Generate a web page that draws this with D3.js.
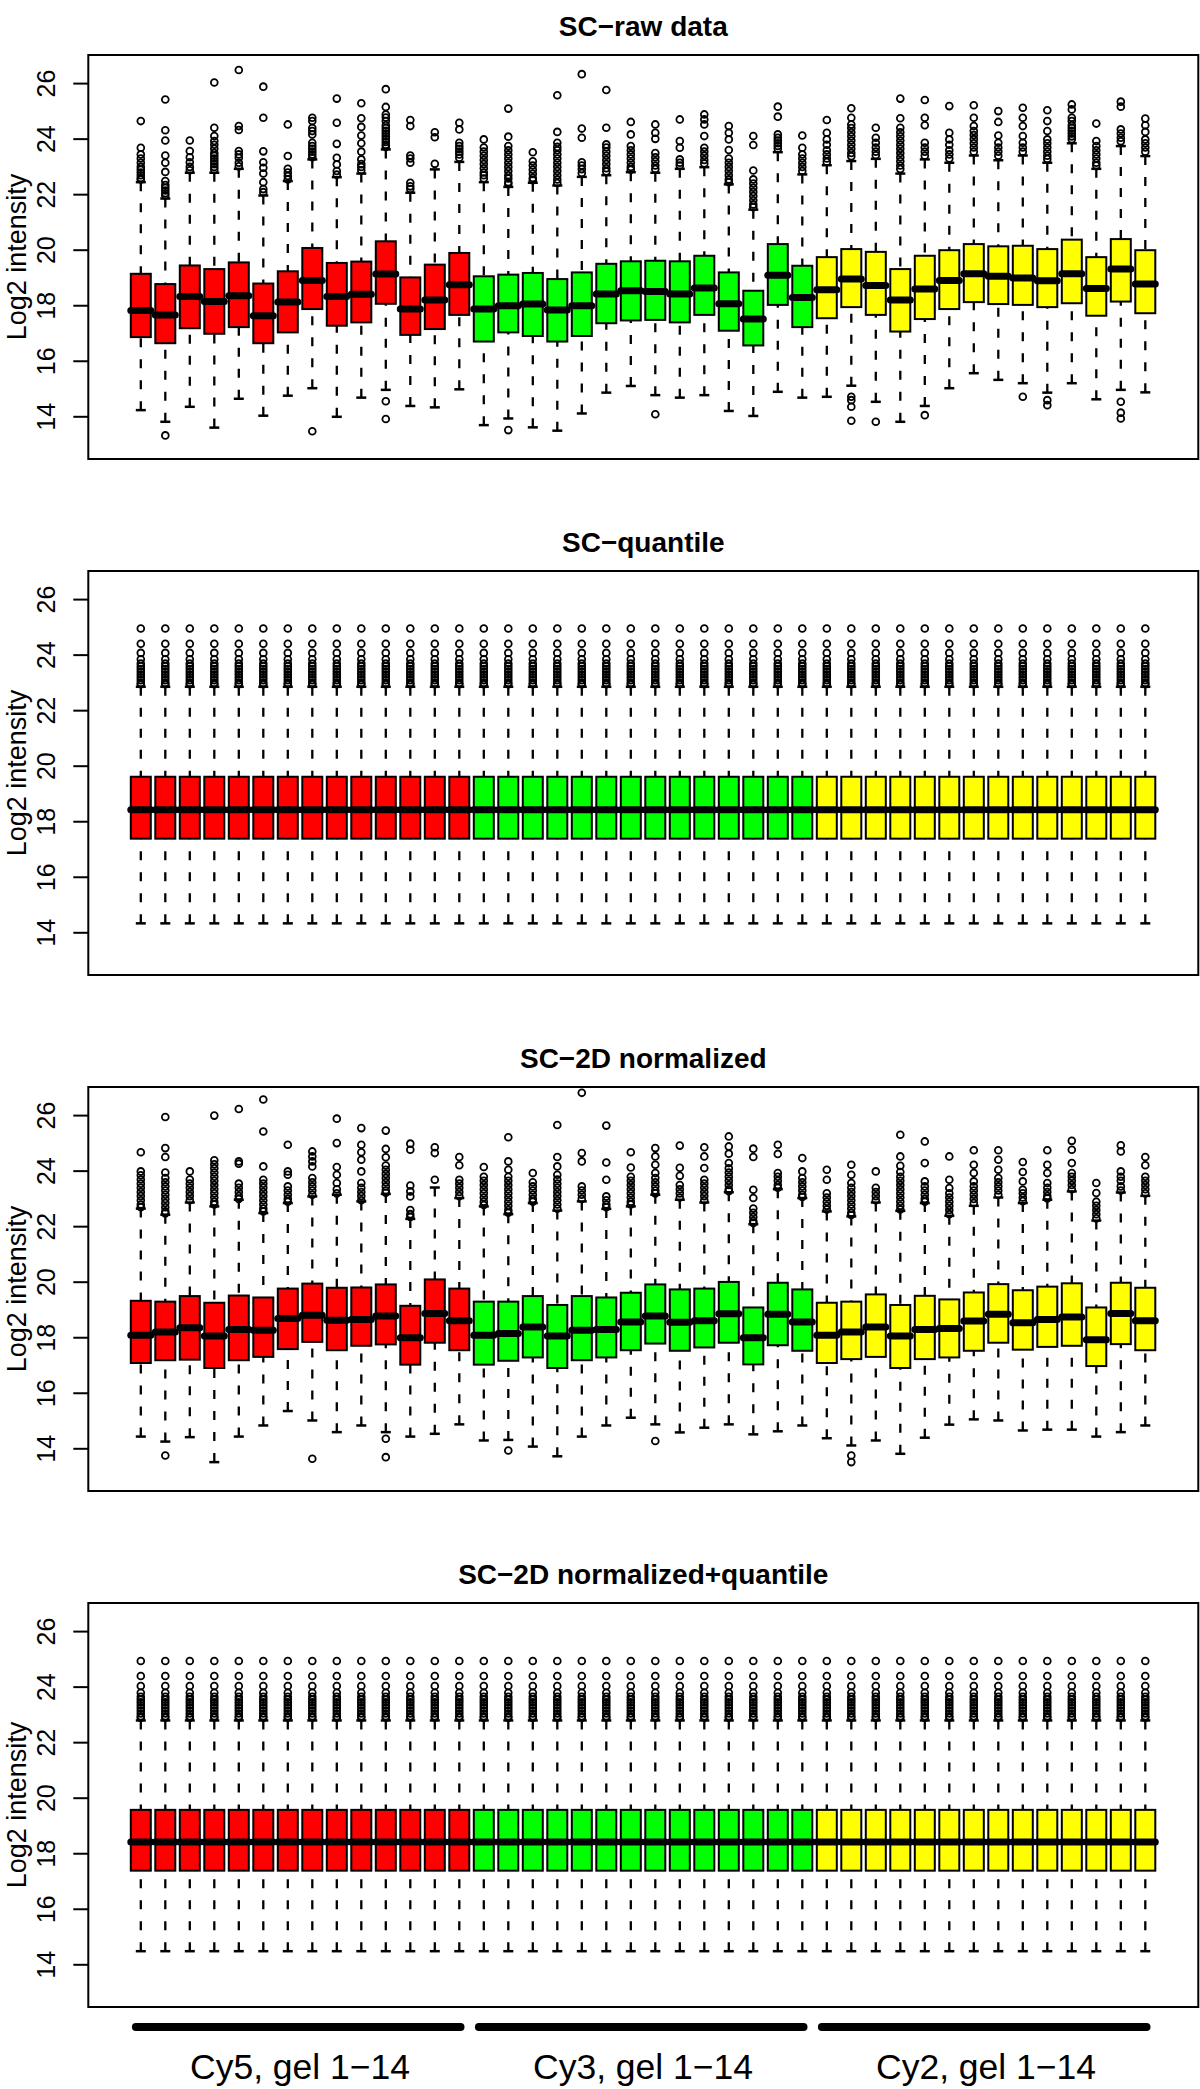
<!DOCTYPE html>
<html><head><meta charset="utf-8">
<script src="https://cdn.jsdelivr.net/npm/d3@7"></script>
<style>
body{margin:0;background:#fff}
svg{display:block}
text{font-family:"Liberation Sans",Arial,Helvetica,sans-serif;fill:#000}
</style>
</head><body><svg id="chart" width="1200" height="2089"></svg>
<script>
// ---------------- DATA ----------------
const panelTitles = ["SC\u2212raw data", "SC\u2212quantile", "SC\u22122D normalized", "SC\u22122D normalized+quantile"];
const yTicks = [14, 16, 18, 20, 22, 24, 26];
const yLabel = "Log2 intensity";
const groupLabels = ["Cy5, gel 1\u221214", "Cy3, gel 1\u221214", "Cy2, gel 1\u221214"];
const groupStart = [1, 15, 29];
const groupEnd = [14, 28, 42];
const groupColors = ["#ff0000", "#00ff00", "#ffff00"];
const samples = [1,2,3,4,5,6,7,8,9,10,11,12,13,14,15,16,17,18,19,20,21,22,23,24,25,26,27,28,29,30,31,32,33,34,35,36,37,38,39,40,41,42];

// Panel 1: raw data
const rawQ3 = [19.15,18.78,19.45,19.32,19.56,18.80,19.24,20.08,19.54,19.59,20.32,19.02,19.48,19.90,19.06,19.12,19.18,18.96,19.20,19.51,19.60,19.62,19.60,19.80,19.20,18.54,20.22,19.44,19.75,20.04,19.94,19.32,19.80,20.00,20.22,20.14,20.16,20.04,20.38,19.75,20.40,20.00];
const rawQ1 = [16.87,16.65,17.19,16.99,17.23,16.65,17.04,17.88,17.28,17.40,18.07,16.95,17.16,17.67,16.71,17.04,16.91,16.71,16.91,17.37,17.47,17.49,17.40,17.67,17.10,16.57,18.03,17.23,17.55,17.95,17.67,17.07,17.52,17.88,18.13,18.06,18.03,17.95,18.09,17.64,18.15,17.73];
const rawMed = [17.83,17.67,18.33,18.15,18.36,17.64,18.13,18.91,18.33,18.41,19.14,17.88,18.21,18.76,17.88,18.00,18.06,17.85,18.00,18.42,18.54,18.51,18.42,18.64,18.07,17.52,19.10,18.30,18.58,18.96,18.73,18.21,18.60,18.91,19.15,19.06,19.00,18.90,19.15,18.62,19.32,18.78];
const rawHi = [22.45,21.86,22.79,22.79,22.93,21.97,22.49,23.27,22.63,22.76,23.63,22.07,22.91,23.18,22.45,22.28,22.43,22.33,22.64,22.70,22.81,22.79,22.93,22.99,22.37,21.46,23.53,22.73,23.06,23.21,23.29,22.76,23.27,23.15,23.41,23.24,23.41,23.15,23.85,22.93,23.75,23.39];
const rawLo = [14.24,13.82,14.36,13.61,14.65,14.04,14.76,15.03,14.00,14.69,14.97,14.39,14.34,14.99,13.70,13.94,13.62,13.50,14.12,14.87,15.11,14.78,14.69,14.78,14.21,14.03,14.90,14.69,14.72,15.12,14.54,13.82,14.39,15.03,15.57,15.33,15.21,14.87,15.21,14.63,14.97,14.88];
const rawOutHi = [
 [24.65,23.69,23.45,23.3,23.15,23.0,22.9,22.8,22.7,22.6,22.55],
 [25.43,24.32,23.95,23.41,23.15,22.82,22.49,22.35,22.25,22.15,22.05,21.97],
 [23.95,23.57,23.35,23.17,23.0,22.88],
 [26.04,24.41,24.11,23.93,23.8,23.65,23.5,23.4,23.3,23.2,23.1,23.0,22.9],
 [26.49,24.47,24.33,23.57,23.45,23.33,23.15,23.02],
 [25.89,24.77,23.56,23.17,22.97,22.76,22.45,22.2,22.09],
 [24.53,23.39,22.93,22.8,22.67,22.55],
 [24.77,24.65,24.4,24.29,24.17,23.87,23.75,23.65,23.55,23.45,23.35],
 [25.46,24.59,23.83,23.33,23.09,22.85,22.72],
 [25.29,24.75,24.44,24.13,23.85,23.55,23.27,23.1,23.0,22.88],
 [25.80,25.16,24.89,24.78,24.65,24.5,24.4,24.3,24.2,24.1,24.0,23.9,23.8,23.72],
 [24.69,24.47,23.41,23.3,23.15,22.43,22.3,22.2],
 [24.25,24.07,23.11],
 [24.59,24.35,23.87,23.75,23.65,23.55,23.45,23.33],
 [23.99,23.7,23.55,23.4,23.25,23.1,22.95,22.8,22.7,22.58],
 [25.10,24.09,23.75,23.6,23.45,23.3,23.15,23.0,22.85,22.7,22.58,22.45,22.38],
 [23.53,23.2,23.05,22.9,22.75,22.6,22.52],
 [25.58,24.26,23.87,23.72,23.6,23.45,23.3,23.15,23.0,22.85,22.7,22.55,22.42],
 [26.34,24.38,24.05,23.17,23.05,22.92,22.78],
 [25.77,24.41,23.81,23.7,23.55,23.4,23.25,23.1,22.95,22.83],
 [24.62,24.17,23.75,23.6,23.45,23.3,23.15,23.0,22.9],
 [24.53,24.23,24.01,23.5,23.35,23.2,23.05,22.92],
 [24.71,23.93,23.69,23.27,23.15,23.05],
 [24.89,24.71,24.53,24.11,23.69,23.55,23.4,23.25,23.12],
 [24.47,24.23,23.99,23.61,23.3,23.15,23.0,22.85,22.7,22.55,22.45],
 [24.11,23.79,22.87,22.55,22.4,22.25,22.1,21.95,21.8,21.65,21.55],
 [25.17,24.81,24.17,24.05,23.95,23.85,23.75,23.65],
 [24.13,23.69,23.45,23.3,23.15,23.0,22.85],
 [24.69,24.23,23.99,23.8,23.6,23.45,23.3,23.18],
 [25.11,24.77,24.53,24.4,24.25,24.1,23.95,23.8,23.65,23.5,23.38],
 [24.41,24.05,23.87,23.7,23.55,23.42],
 [25.46,24.75,24.41,24.25,24.1,23.95,23.8,23.65,23.5,23.35,23.2,23.05,22.92],
 [25.41,24.77,24.50,23.87,23.7,23.55,23.4],
 [25.19,24.23,23.99,23.8,23.6,23.45,23.3],
 [25.22,24.77,24.47,24.29,24.15,24.0,23.85,23.7,23.55],
 [25.01,24.62,24.13,23.87,23.7,23.55,23.4],
 [25.13,24.77,24.47,24.11,23.87,23.7,23.55],
 [25.04,24.65,24.29,23.99,23.85,23.7,23.55,23.4,23.28],
 [25.25,25.07,24.77,24.65,24.5,24.4,24.3,24.2,24.1,24.0],
 [24.56,23.93,23.75,23.6,23.45,23.3,23.15,23.05],
 [25.35,25.17,24.35,24.2,24.05,23.92],
 [24.74,24.50,24.26,23.99,23.85,23.7,23.55]
];
const rawOutLo = [[],[13.33],[],[],[],[],[],[13.48],[],[],[14.56,13.92],[],[],[],[],[13.52],[],[],[],[],[],[14.09],[],[],[],[],[],[],[],[14.72,14.6,14.36,13.86],[13.82],[],[14.06],[],[],[],[14.72],[14.6,14.42],[],[],[14.54,14.15,13.94],[]];

// Panel 3: 2D normalized
const n2dQ3 = [19.33,19.30,19.50,19.26,19.52,19.45,19.77,19.95,19.80,19.81,19.92,19.15,20.10,19.77,19.30,19.30,19.50,19.18,19.50,19.45,19.62,19.92,19.74,19.77,20.01,19.09,19.98,19.74,19.26,19.30,19.56,19.18,19.51,19.38,19.63,19.93,19.71,19.84,19.96,19.09,19.98,19.80];
const n2dQ1 = [17.09,17.19,17.21,16.91,17.19,17.31,17.59,17.85,17.55,17.71,17.76,17.03,17.82,17.55,17.03,17.17,17.29,16.91,17.19,17.29,17.55,17.79,17.53,17.65,17.82,17.04,17.73,17.53,17.09,17.23,17.31,16.91,17.23,17.29,17.53,17.82,17.57,17.67,17.71,16.98,17.77,17.55];
const n2dMed = [18.09,18.21,18.36,18.06,18.30,18.27,18.69,18.81,18.63,18.66,18.78,18.00,18.87,18.61,18.09,18.15,18.39,18.06,18.27,18.30,18.57,18.78,18.56,18.61,18.86,18.00,18.85,18.57,18.09,18.21,18.39,18.06,18.30,18.33,18.60,18.85,18.54,18.66,18.75,17.93,18.87,18.61];
const n2dHi = [22.65,22.43,22.87,22.73,22.97,22.49,22.85,23.09,23.15,22.91,23.18,22.28,23.41,23.03,22.73,22.45,22.85,22.58,22.91,22.64,22.73,23.15,22.97,22.87,23.24,22.09,23.35,23.03,22.55,22.37,22.87,22.57,22.85,22.39,22.75,23.05,22.85,22.97,23.27,22.22,23.23,23.11];
const n2dLo = [14.44,14.26,14.42,13.52,14.44,14.84,15.36,15.02,14.60,14.84,14.60,14.44,14.54,14.88,14.30,14.32,14.08,13.73,14.44,14.84,15.12,14.88,14.59,14.76,14.88,14.52,14.63,14.84,14.38,14.12,14.30,13.82,14.40,14.87,15.06,15.02,14.66,14.69,14.69,14.44,14.60,14.84];
const n2dOutHi = [
 [24.68,23.99,23.85,23.7,23.55,23.4,23.25,23.1,22.95,22.8,22.7],
 [25.95,24.83,24.51,23.95,23.75,23.6,23.45,23.3,23.15,23.0,22.85,22.7,22.55,22.48],
 [23.99,23.7,23.55,23.4,23.25,23.1,22.95],
 [26.0,24.39,24.25,24.1,23.95,23.8,23.65,23.5,23.35,23.2,23.05,22.9,22.8],
 [26.24,24.35,24.27,23.55,23.4,23.25,23.1,23.0],
 [26.58,25.43,24.17,23.69,23.55,23.4,23.25,23.1,22.95,22.8,22.65,22.55],
 [24.95,23.99,23.87,23.45,23.3,23.15,23.0,22.9],
 [24.71,24.53,24.35,24.17,23.75,23.6,23.45,23.3,23.15],
 [25.89,25.01,24.15,23.87,23.57,23.35,23.2],
 [25.55,24.95,24.68,24.41,23.99,23.57,23.4,23.25,23.1,22.95],
 [25.46,24.80,24.50,24.2,24.05,23.9,23.75,23.6,23.45,23.3,23.22],
 [24.99,24.77,23.48,23.27,23.09,22.6,22.45,22.35],
 [24.86,24.65,23.69],
 [24.51,24.21,23.69,23.55,23.4,23.25,23.1],
 [24.15,23.8,23.65,23.5,23.35,23.2,23.05,22.9,22.78],
 [25.22,24.35,24.05,23.8,23.65,23.5,23.35,23.2,23.05,22.9,22.75,22.6,22.5],
 [23.93,23.6,23.45,23.3,23.15,23.0,22.9],
 [25.66,24.51,24.17,23.87,23.7,23.55,23.4,23.25,23.1,22.95,22.8,22.65],
 [26.82,24.65,24.35,23.45,23.3,23.15,23.0],
 [25.64,24.31,23.69,23.09,22.95,22.8,22.7],
 [24.68,24.13,23.8,23.65,23.5,23.35,23.2,23.05,22.9,22.8],
 [24.83,24.53,24.23,23.93,23.75,23.6,23.45,23.3,23.2],
 [24.92,24.12,23.83,23.5,23.35,23.2,23.05],
 [24.86,24.53,24.11,23.69,23.55,23.4,23.25,23.1,22.95],
 [25.25,24.89,24.63,24.29,24.1,23.95,23.8,23.65,23.5,23.35,23.28],
 [24.81,24.51,23.33,23.03,22.65,22.5,22.35,22.2,22.13],
 [24.95,24.62,23.93,23.8,23.65,23.5,23.4],
 [24.47,23.99,23.75,23.6,23.45,23.3,23.15,23.07],
 [24.05,23.69,23.2,23.05,22.9,22.75,22.62],
 [24.23,23.87,23.57,23.4,23.25,23.1,22.95,22.8,22.65,22.5,22.42],
 [23.99,23.4,23.25,23.1,22.95],
 [25.31,24.53,24.19,23.97,23.8,23.65,23.5,23.35,23.2,23.05,22.9,22.75,22.62],
 [25.07,24.29,23.63,23.45,23.3,23.15,23.0,22.9],
 [24.53,23.69,23.39,23.2,23.05,22.9,22.75,22.6,22.45],
 [24.75,24.23,23.93,23.63,23.45,23.3,23.15,23.0,22.85],
 [24.75,24.41,24.05,23.75,23.6,23.45,23.3,23.15],
 [24.33,23.97,23.63,23.33,23.2,23.05,22.92],
 [24.75,24.23,23.93,23.57,23.4,23.25,23.1,23.02],
 [25.09,24.77,24.29,23.93,23.8,23.65,23.5,23.35],
 [23.57,23.21,22.9,22.75,22.6,22.45,22.3],
 [24.93,24.71,23.99,23.8,23.65,23.45,23.3],
 [24.51,24.21,23.8,23.65,23.5,23.35,23.2]
];
const n2dOutLo = [[],[13.76],[],[],[],[],[],[13.64],[],[],[14.36,13.70],[],[],[],[],[13.94],[],[],[],[],[],[14.28],[],[],[],[],[],[],[],[13.76,13.52],[],[],[],[],[],[],[],[],[],[],[],[]];

// Panels 2 and 4: quantile-normalised -> every sample shares one distribution
const quantStats = {q1: 17.39, med: 18.43, q3: 19.62, lo: 14.34, hi: 22.86,
  outHi: [24.96,24.41,24.08,23.85,23.7,23.6,23.5,23.4,23.3,23.2,23.1,23.0,22.95]};
const n2dQuantStats = {q1: 17.39, med: 18.42, q3: 19.58, lo: 14.49, hi: 22.80,
  outHi: [24.94,24.4,24.04,23.8,23.65,23.55,23.45,23.35,23.25,23.15,23.05,22.95,22.9]};

// ---------------- BUILD ----------------
function fromArrays(q1, med, q3, lo, hi, outHi, outLo) {
  return samples.map((s, i) => ({sample: s, q1: q1[i], med: med[i], q3: q3[i], lo: lo[i], hi: hi[i], outHi: outHi[i], outLo: outLo[i]}));
}
function fromShared(st) {
  return samples.map(s => ({sample: s, q1: st.q1, med: st.med, q3: st.q3, lo: st.lo, hi: st.hi, outHi: st.outHi, outLo: []}));
}
const panels = [
  fromArrays(rawQ1, rawMed, rawQ3, rawLo, rawHi, rawOutHi, rawOutLo),
  fromShared(quantStats),
  fromArrays(n2dQ1, n2dMed, n2dQ3, n2dLo, n2dHi, n2dOutHi, n2dOutLo),
  fromShared(n2dQuantStats)
];

// ---------------- LAYOUT ----------------
const plotLeft = 88.3, plotRight = 1198.3;
const panelTop0 = 55, panelStep = 516, panelH = 404;
const yDomain = [12.48, 27.03];
const boxW = 20;

const svg = d3.select("#chart");
const x = d3.scaleLinear().domain([1, 42]).range([140.8, 1145.3]);
const colorOf = s => groupColors[groupStart.filter(g => s >= g).length - 1];

panels.forEach((data, p) => {
  const top = panelTop0 + p * panelStep;
  const y = d3.scaleLinear().domain(yDomain).range([top + panelH, top]);
  const g = svg.append("g");

  // title
  g.append("text").attr("x", (plotLeft + plotRight) / 2).attr("y", top - 19)
    .attr("text-anchor", "middle").attr("font-weight", "bold").attr("font-size", 28)
    .text(panelTitles[p]);

  // y axis
  const ax = g.append("g").attr("transform", `translate(${plotLeft},0)`)
    .call(d3.axisLeft(y).tickValues(yTicks).tickSize(15).tickFormat(d3.format("d")));
  ax.select(".domain").remove();
  ax.selectAll(".tick").attr("transform", null);
  ax.selectAll(".tick line").attr("stroke", "#000").attr("stroke-width", 2)
    .attr("y1", d => y(d)).attr("y2", d => y(d)).attr("x2", -15);
  ax.selectAll(".tick text").attr("font-size", 25).attr("fill", "#000")
    .attr("font-family", '"Liberation Sans",Arial,sans-serif')
    .attr("transform", d => `translate(${55 - plotLeft},${y(d)}) rotate(-90)`)
    .attr("x", 0).attr("y", 0).attr("dy", 0).attr("text-anchor", "middle");

  g.append("text").attr("transform", `translate(26,${top + panelH / 2}) rotate(-90)`)
    .attr("text-anchor", "middle").attr("font-size", 27).text(yLabel);

  // boxes
  const b = g.selectAll(".bx").data(data).join("g").attr("class", "bx");
  const dash = "9,12";
  b.append("line").attr("x1", d => x(d.sample)).attr("x2", d => x(d.sample))
    .attr("y1", d => y(d.hi)).attr("y2", d => y(d.q3))
    .attr("stroke", "#000").attr("stroke-width", 2.3).attr("stroke-dasharray", dash);
  b.append("line").attr("x1", d => x(d.sample)).attr("x2", d => x(d.sample))
    .attr("y1", d => y(d.lo)).attr("y2", d => y(d.q1))
    .attr("stroke", "#000").attr("stroke-width", 2.3).attr("stroke-dasharray", dash);
  b.append("line").attr("x1", d => x(d.sample) - boxW / 4).attr("x2", d => x(d.sample) + boxW / 4)
    .attr("y1", d => y(d.hi)).attr("y2", d => y(d.hi)).attr("stroke", "#000").attr("stroke-width", 2.5);
  b.append("line").attr("x1", d => x(d.sample) - boxW / 4).attr("x2", d => x(d.sample) + boxW / 4)
    .attr("y1", d => y(d.lo)).attr("y2", d => y(d.lo)).attr("stroke", "#000").attr("stroke-width", 2.5);
  b.append("rect").attr("x", d => x(d.sample) - boxW / 2).attr("width", boxW)
    .attr("y", d => y(d.q3)).attr("height", d => y(d.q1) - y(d.q3))
    .attr("fill", d => colorOf(d.sample)).attr("stroke", "#000").attr("stroke-width", 2);
  b.append("line").attr("x1", d => x(d.sample) - boxW / 2).attr("x2", d => x(d.sample) + boxW / 2)
    .attr("y1", d => y(d.med)).attr("y2", d => y(d.med))
    .attr("stroke", "#000").attr("stroke-width", 7).attr("stroke-linecap", "round");
  b.selectAll(".oh").data(d => d.outHi.concat(d.outLo).map(v => ({s: d.sample, v}))).join("circle")
    .attr("cx", d => x(d.s)).attr("cy", d => y(d.v)).attr("r", 3.4)
    .attr("fill", "none").attr("stroke", "#000").attr("stroke-width", 1.8);

  // frame
  g.append("rect").attr("x", plotLeft).attr("y", top).attr("width", plotRight - plotLeft).attr("height", panelH)
    .attr("fill", "none").attr("stroke", "#000").attr("stroke-width", 2);
});

// group bars + labels under the last panel
const barY = 2027;
groupLabels.forEach((lab, i) => {
  svg.append("line").attr("x1", x(groupStart[i] - 0.2)).attr("x2", x(groupEnd[i] + 0.05))
    .attr("y1", barY).attr("y2", barY).attr("stroke", "#000").attr("stroke-width", 8).attr("stroke-linecap", "round");
  svg.append("text").attr("x", (x(groupStart[i]) + x(groupEnd[i])) / 2).attr("y", 2079)
    .attr("text-anchor", "middle").attr("font-size", 35.5).text(lab);
});
</script>
</body></html>
